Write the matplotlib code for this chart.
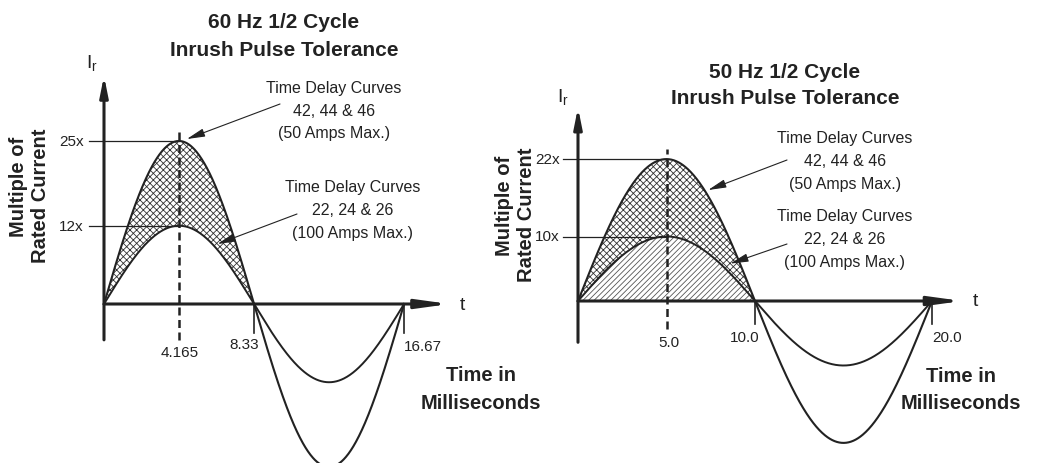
import numpy as np
import matplotlib
matplotlib.use("Agg")
import matplotlib.pyplot as plt

# chart values
freq_hz = [60, 50]
half_cycle_ms = [8.33, 10.0]
full_cycle_ms = [16.67, 20.0]
peak_ms = [4.165, 5.0]
peak_labels = ["4.165", "5.0"]
half_labels = ["8.33", "10.0"]
full_labels = ["16.67", "20.0"]
hi_mult = [25, 22]   # 42, 44 & 46 curves
lo_mult = [12, 10]   # 22, 24 & 26 curves

plt.rcParams['font.family'] = ['Liberation Sans', 'DejaVu Sans']
plt.rcParams['hatch.linewidth'] = 0.6
ink = '#222222'

W, H = 1037, 464
fig = plt.figure(figsize=(W / 100, H / 100), dpi=100)


def px(x, y):
    return (x / W, 1 - y / H)


# panel geometry in pixels: origin and scale (px per ms, px per unit)
panels = [
    dict(left=0, width=518, ox=104, oy=305, sx=18.0, sy=6.52),
    dict(left=518, width=519, ox=578, oy=302, sx=17.7, sy=6.45),
]
# text layout in pixels
txt = [
    dict(title=(284, 23, 50), ir=(92, 64), ylab=((19, 187), (40, 196)),
         mult=(84,), peak=(180, 353), half=(244, 345), full=(423, 347), t=(462, 305),
         a1=(334, 88), a2=(353, 188), a1_tail=(280, 105), a2_tail=(297, 215),
         a1_tip=(4.6, 25.3), a2_tip=(6.3, 9.2), tm=(481, 376, 404),
         ytop=35, ybot=-5.5, xend=19.2, dash_top=26.4, dash_bot=-5.5, tick=-4.5,
         shade_lo=False),
    dict(title=(785, 72, 99), ir=(563, 98), ylab=((505, 206), (526, 215)),
         mult=(560,), peak=(669, 343), half=(745, 338), full=(947, 338), t=(975, 302),
         a1=(845, 138), a2=(845, 217), a1_tail=(787, 161), a2_tail=(787, 245),
         a1_tip=(7.35, 17.2), a2_tip=(8.6, 5.8), tm=(961, 377, 404),
         ytop=30, ybot=-6.4, xend=21.7, dash_top=23.6, dash_bot=-4.3, tick=-3.6,
         shade_lo=True),
]

for i in range(2):
    p = panels[i]
    s = txt[i]
    ax = fig.add_axes([p['left'] / W, 0, p['width'] / W, 1])
    ax.set_xlim((p['left'] - p['ox']) / p['sx'], (p['left'] + p['width'] - p['ox']) / p['sx'])
    ax.set_ylim(-(H - p['oy']) / p['sy'], p['oy'] / p['sy'])
    ax.axis('off')

    per = full_cycle_ms[i]
    t = np.linspace(0, per, 600)
    hi = hi_mult[i] * np.sin(2 * np.pi * t / per)
    lo = lo_mult[i] * np.sin(2 * np.pi * t / per)
    pos = t <= half_cycle_ms[i]

    ax.fill_between(t[pos], lo[pos], hi[pos], facecolor='white', edgecolor='#333333',
                    hatch='xxxxx', linewidth=0, zorder=1)
    if s['shade_lo']:
        ax.fill_between(t[pos], 0, lo[pos], facecolor='white', edgecolor='#555555',
                        hatch='//////', linewidth=0, zorder=1)
    ax.plot(t, hi, color=ink, lw=1.5, zorder=3)
    ax.plot(t, lo, color=ink, lw=1.4, zorder=3)

    # axes with arrows
    ax.annotate('', xy=(0, s['ytop']), xytext=(0, s['ybot']),
                arrowprops=dict(arrowstyle='-|>,head_length=1.0,head_width=0.2',
                                color=ink, lw=2.2, shrinkA=0, shrinkB=0, mutation_scale=12),
                zorder=4)
    ax.annotate('', xy=(s['xend'], 0), xytext=(0, 0),
                arrowprops=dict(arrowstyle='-|>,head_length=1.6,head_width=0.22',
                                color=ink, lw=2.2, shrinkA=0, shrinkB=0, mutation_scale=12),
                zorder=4)

    # tick marks at half and full cycle
    for x in (half_cycle_ms[i], per):
        ax.plot([x, x], [0, s['tick']], color=ink, lw=1.2, zorder=3)

    # dashed peak line
    ax.plot([peak_ms[i], peak_ms[i]], [s['dash_bot'], s['dash_top']], color=ink, lw=1.8,
            linestyle=(0, (3.2, 1.8)), zorder=4)

    # reference lines to peaks
    x0 = -15 / p['sx']
    for m in (hi_mult[i], lo_mult[i]):
        ax.plot([x0, peak_ms[i]], [m, m], color=ink, lw=0.9, zorder=2)
        fig.text(*px(s['mult'][0], p['oy'] - m * p['sy']), f"{m}x", ha='right', va='center',
                 fontsize=11, color=ink)

    # annotation arrows
    for tip, tail in ((s['a1_tip'], s['a1_tail']), (s['a2_tip'], s['a2_tail'])):
        ax.annotate('', xy=tip, xytext=px(*tail), textcoords='figure fraction',
                    arrowprops=dict(arrowstyle='-|>,head_length=1.1,head_width=0.25',
                                    color=ink, lw=0.8, shrinkA=0, shrinkB=0, mutation_scale=10),
                    zorder=5)

    # texts
    fig.text(*px(s['title'][0], s['title'][1]), f"{freq_hz[i]} Hz 1/2 Cycle", ha='center',
             va='center', fontsize=15, fontweight='bold', color=ink)
    fig.text(*px(s['title'][0], s['title'][2]), "Inrush Pulse Tolerance", ha='center',
             va='center', fontsize=15, fontweight='bold', color=ink)
    fig.text(*px(*s['ir']), r"I$_\mathregular{r}$", ha='center', va='center', fontsize=14,
             color=ink)
    fig.text(*px(*s['ylab'][0]), "Multiple of", rotation=90, ha='center', va='center',
             fontsize=14.5, fontweight='bold', color=ink)
    fig.text(*px(*s['ylab'][1]), "Rated Current", rotation=90, ha='center', va='center',
             fontsize=14.5, fontweight='bold', color=ink)
    fig.text(*px(*s['peak']), peak_labels[i], ha='center', va='center', fontsize=11, color=ink)
    fig.text(*px(*s['half']), half_labels[i], ha='center', va='center', fontsize=11, color=ink)
    fig.text(*px(*s['full']), full_labels[i], ha='center', va='center', fontsize=11, color=ink)
    fig.text(*px(*s['t']), "t", ha='center', va='center', fontsize=14, color=ink)
    for k, line in enumerate(["Time Delay Curves", "42, 44 & 46", "(50 Amps Max.)"]):
        fig.text(*px(s['a1'][0], s['a1'][1] + 23 * k), line, ha='center', va='center',
                 fontsize=11.5, color=ink)
    for k, line in enumerate(["Time Delay Curves", "22, 24 & 26", "(100 Amps Max.)"]):
        fig.text(*px(s['a2'][0], s['a2'][1] + 23 * k), line, ha='center', va='center',
                 fontsize=11.5, color=ink)
    fig.text(*px(s['tm'][0], s['tm'][1]), "Time in", ha='center', va='center', fontsize=14.5,
             fontweight='bold', color=ink)
    fig.text(*px(s['tm'][0], s['tm'][2]), "Milliseconds", ha='center', va='center',
             fontsize=14.5, fontweight='bold', color=ink)

fig.savefig('out.png', dpi=100, facecolor='white')
